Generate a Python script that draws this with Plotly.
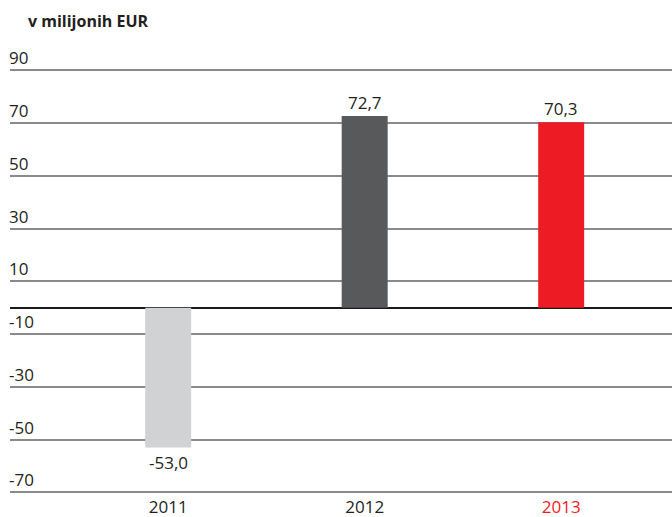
import plotly.graph_objects as go

categories = ["2011", "2012", "2013"]
values = [-53.0, 72.7, 70.3]
value_labels = ["-53,0", "72,7", "70,3"]
bar_colors = ["#d1d2d4", "#58595b", "#ed1c24"]
x_tick_labels = ["2011", "2012", "<span style='color:#ed1c24'>2013</span>"]
y_tick_values = [-70, -50, -30, -10, 10, 30, 50, 70, 90]
y_tick_labels = ["-70", "-50", "-30", "-10", "10", "30", "50", "70", "90"]
title_text = "<b>v milijonih EUR</b>"

FONT = "Open Sans"
TXT = "#231f20"

fig = go.Figure(
    go.Bar(
        x=categories,
        y=values,
        marker=dict(color=bar_colors, line=dict(width=0)),
        width=0.234,
        hoverinfo="skip",
    )
)

for i, (v, lab) in enumerate(zip(values, value_labels)):
    fig.add_annotation(
        xref="x",
        yref="y",
        x=i,
        y=v,
        text=lab,
        showarrow=False,
        yanchor="bottom" if v >= 0 else "top",
        yshift=0 if v >= 0 else -1,
        font=dict(family=FONT, size=17, color=TXT),
    )

fig.update_layout(
    width=672,
    height=517,
    margin=dict(l=10, r=0, t=44, b=22),
    paper_bgcolor="white",
    plot_bgcolor="white",
    showlegend=False,
    font=dict(family=FONT, size=17, color=TXT),
    title=dict(
        text=title_text,
        font=dict(family=FONT, size=16, color=TXT),
        xref="container",
        yref="container",
        x=28 / 672,
        xanchor="left",
        y=1 - 21 / 517,
        yanchor="middle",
    ),
    xaxis=dict(
        type="category",
        range=[-0.805, 2.564],
        tickvals=categories,
        ticktext=x_tick_labels,
        showgrid=False,
        zeroline=False,
        showline=False,
        ticks="",
        tickfont=dict(family=FONT, size=17, color=TXT),
    ),
    yaxis=dict(
        range=[-71, 100],
        tickvals=y_tick_values,
        ticktext=y_tick_labels,
        ticklabelposition="inside top",
        ticklabelstandoff=-4,
        showgrid=True,
        gridcolor="#8a8a8a",
        gridwidth=1.5,
        zeroline=True,
        zerolinecolor="#1a1a1a",
        zerolinewidth=2.2,
        showline=False,
        ticks="",
        tickfont=dict(family=FONT, size=17, color=TXT),
    ),
)

fig.write_html(
    "out.html",
    config={"displayModeBar": False},
    post_script="document.body.style.margin='0';document.body.style.overflow='hidden';",
)
